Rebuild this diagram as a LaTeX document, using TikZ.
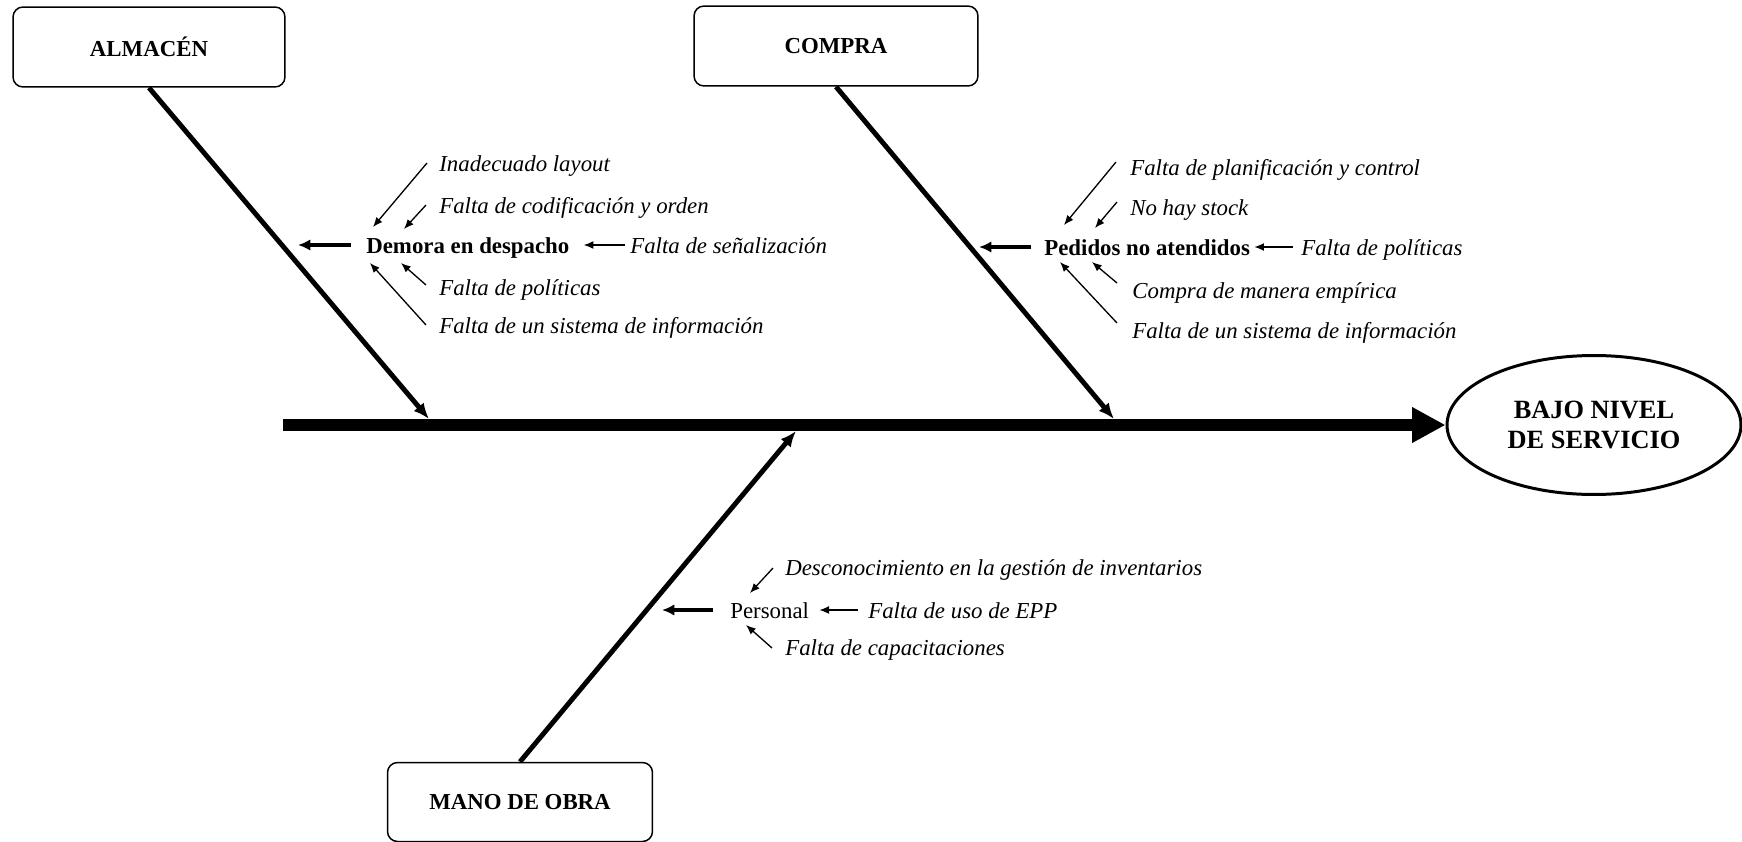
\documentclass[tikz,border=0pt]{standalone}
\usepackage{fontspec}
\setmainfont{Liberation Serif}
\usetikzlibrary{arrows.meta, calc, shapes.geometric}
\tikzset{x=.02cm,y=-.02cm}
\tikzset{
  catbox/.style={draw, line width=.85pt, rounded corners=.2cm, inner sep=0pt,
    font=\fontsize{13}{15}\selectfont\bfseries},
  effect/.style={ellipse, draw, line width=1.7pt, inner sep=0pt,
    minimum width=5.88cm, minimum height=2.78cm, align=center,
    font=\fontsize{15}{17}\selectfont\bfseries},
  lbl/.style={anchor=west, inner sep=0pt, text height=12.5pt, text depth=3pt,
    font=\fontsize{13}{15}\selectfont},
  sub/.style={lbl, font=\fontsize{13}{15}\selectfont\bfseries},
  cause/.style={lbl, font=\fontsize{13}{15}\selectfont\itshape},
  twig/.style={line width=.75pt, -{Latex[length=5.5pt,width=4.5pt]}},
  subarrow/.style={line width=2.3pt, -{Latex[length=7pt,width=6.5pt]}},
  bone/.style={line width=2.8pt, -{Latex[length=9pt,width=7.5pt]}},
  spine/.style={line width=6.8pt, -{Triangle[length=19pt,width=19pt]}}
}

\begin{document}
\begin{tikzpicture}
\useasboundingbox (0,0) rectangle (1742,842);
% categories and effect
\node[catbox, minimum width=5.44cm, minimum height=1.6cm] (almacen) at (149,47) {ALMACÉN};
\node[catbox, minimum width=5.68cm, minimum height=1.6cm] (compra) at (836,46) {COMPRA};
\node[catbox, minimum width=5.3cm, minimum height=1.58cm] (mano) at (520,802) {MANO DE OBRA};
\node[effect] (efecto) at (1594,425) {BAJO NIVEL\\DE SERVICIO};

% spine and bones
\coordinate (cola) at (283,425);
\draw[spine] (cola) -- (efecto);
\coordinate (s1) at (429,419);
\coordinate (s2) at (1114,419);
\coordinate (s3) at (796,431);
\draw[bone] (almacen.south) -- (s1);
\draw[bone] (compra.south) -- (s2);
\draw[bone] (mano.north) -- (s3);

% almacen
\node[sub] (demora) at (366,245) {Demora en despacho};
\coordinate (a0) at (298,245);
\draw[subarrow] ($(demora.west)+(-15,0)$) -- (a0);
\node[cause] (a1) at (439,163) {Inadecuado layout};
\node[cause] (a2) at (439,205) {Falta de codificación y orden};
\node[cause] (a3) at (630,245) {Falta de señalización};
\node[cause] (a4) at (439,287) {Falta de políticas};
\node[cause] (a5) at (439,325) {Falta de un sistema de información};
\draw[twig] ($(a1.west)+(-12,0)$) -- ($(demora.west)+(7,-18)$);
\draw[twig] ($(a2.west)+(-13,0)$) -- ($(demora.west)+(38,-16)$);
\draw[twig] ($(a3.west)+(-5,0)$) -- ($(demora.east)+(14,0)$);
\draw[twig] ($(a4.west)+(-13,-2)$) -- ($(demora.west)+(35,18)$);
\draw[twig] ($(a5.west)+(-13,0)$) -- ($(demora.west)+(4,18)$);

% compra
\node[sub] (pedidos) at (1044,247) {Pedidos no atendidos};
\coordinate (b0) at (979,247);
\draw[subarrow] ($(pedidos.west)+(-13,0)$) -- (b0);
\node[cause] (b1) at (1130,167) {Falta de planificación y control};
\node[cause] (b2) at (1130,207) {No hay stock};
\node[cause] (b3) at (1301,247) {Falta de políticas};
\node[cause] (b4) at (1132,290) {Compra de manera empírica};
\node[cause] (b5) at (1132,330) {Falta de un sistema de información};
\draw[twig] ($(b1.west)+(-14,-5)$) -- ($(pedidos.west)+(20,-22)$);
\draw[twig] ($(b2.west)+(-13,-5)$) -- ($(pedidos.west)+(51,-19)$);
\draw[twig] ($(b3.west)+(-8,0)$) -- ($(pedidos.east)+(4,0)$);
\draw[twig] ($(b4.west)+(-15,-7)$) -- ($(pedidos.west)+(48,15)$);
\draw[twig] ($(b5.west)+(-15,-7)$) -- ($(pedidos.west)+(16,15)$);

% mano de obra
\node[lbl] (personal) at (730,610) {Personal};
\coordinate (m0) at (662,610);
\draw[subarrow] ($(personal.west)+(-17,0)$) -- (m0);
\node[cause] (m1) at (785,567) {Desconocimiento en la gestión de inventarios};
\node[cause] (m2) at (868,610) {Falta de uso de EPP};
\node[cause] (m3) at (785,647) {Falta de capacitaciones};
\draw[twig] ($(m1.west)+(-12,1)$) -- ($(personal.west)+(20,-17)$);
\draw[twig] ($(m2.west)+(-10,0)$) -- ($(personal.east)+(10,0)$);
\draw[twig] ($(m3.west)+(-13,1)$) -- ($(personal.west)+(16,15)$);
\end{tikzpicture}
\end{document}
